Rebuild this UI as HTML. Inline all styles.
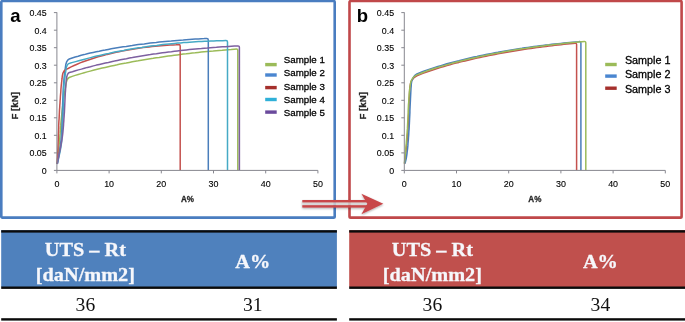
<!DOCTYPE html>
<html><head><meta charset="utf-8"><title>Tensile test comparison</title>
<style>html,body{margin:0;padding:0;background:#fff}body{width:685px;height:322px;position:relative;overflow:hidden}</style>
</head><body>
<svg width="685" height="322" viewBox="0 0 685 322" style="position:absolute;left:0;top:0">
<defs><filter id="sh" x="-10%" y="-30%" width="120%" height="170%"><feGaussianBlur in="SourceAlpha" stdDeviation="0.9"/><feOffset dx="0.4" dy="1"/><feComponentTransfer><feFuncA type="linear" slope="0.35"/></feComponentTransfer><feMerge><feMergeNode/><feMergeNode in="SourceGraphic"/></feMerge></filter></defs>
<rect width="685" height="322" fill="#fff"/>
<rect x="1.3" y="1.0" width="333.4" height="216.6" rx="1.2" fill="#fff" stroke="#4a7dc0" stroke-width="2.6"/>
<rect x="349.5" y="1.0" width="332.1" height="216.6" rx="1.2" fill="#fff" stroke="#c0484a" stroke-width="2.6"/>
<path d="M57.2,164.0 L57.4,162.0 L57.5,160.0 L57.7,158.0 L57.9,156.0 L58.1,154.0 L58.3,152.0 L58.5,150.0 L58.8,148.0 L59.0,146.0 L59.2,144.0 L59.4,142.0 L59.6,140.0 L59.8,138.0 L59.9,136.0 L60.1,133.9 L60.2,131.9 L60.4,129.9 L60.5,127.9 L60.7,125.9 L60.8,123.9 L61.0,121.9 L61.2,119.9 L61.4,117.9 L61.6,115.9 L61.8,113.9 L62.0,111.9 L62.2,109.9 L62.4,107.9 L62.7,105.9 L62.9,103.9 L63.2,101.9 L63.5,99.9 L63.8,97.9 L64.1,95.9 L64.4,93.9 L64.7,91.9 L65.1,90.0 L65.4,88.0 L65.8,86.0 Q66.4,78.7 69.2,77.5 L72.2,76.4 L75.2,75.4 L78.2,74.5 L81.2,73.6 L84.2,72.7 L87.2,71.9 L90.2,71.1 L93.2,70.3 L96.2,69.5 L99.2,68.8 L102.2,68.1 L105.2,67.4 L108.2,66.7 L111.2,66.0 L114.2,65.4 L117.2,64.8 L120.2,64.1 L123.2,63.5 L126.2,63.0 L129.2,62.4 L132.2,61.8 L135.2,61.3 L138.2,60.8 L141.2,60.2 L144.2,59.7 L147.2,59.2 L150.2,58.7 L153.2,58.3 L156.2,57.8 L159.2,57.4 L162.2,56.9 L165.2,56.5 L168.2,56.1 L171.2,55.7 L174.2,55.3 L177.2,54.9 L180.2,54.5 L183.2,54.1 L186.2,53.8 L189.2,53.4 L192.2,53.1 L195.2,52.8 L198.2,52.4 L201.2,52.1 L204.2,51.8 L207.2,51.5 L210.2,51.2 L213.2,51.0 L216.2,50.7 L219.2,50.4 L222.2,50.2 L225.2,49.9 L228.2,49.7 L231.2,49.5 L234.2,49.2 L236.3,49.1 Q237.8,49.0 237.8,50.5 L237.8,170.3" fill="none" stroke="#9bbb59" stroke-width="1.5" stroke-linejoin="round"/>
<path d="M57.2,164.0 L57.6,161.6 L58.1,159.1 L58.5,156.7 L58.9,154.3 L59.4,151.8 L59.8,149.4 L60.2,146.9 L60.6,144.5 L60.8,142.0 L61.1,139.6 L61.3,137.1 L61.5,134.6 L61.6,132.2 L61.8,129.7 L61.9,127.2 L62.0,124.8 L62.1,122.3 L62.2,119.8 L62.3,117.4 L62.4,114.9 L62.4,112.4 L62.5,109.9 L62.6,107.5 L62.6,105.0 L62.7,102.5 L62.8,100.0 L62.9,97.6 L63.0,95.1 L63.1,92.6 L63.2,90.2 L63.3,87.7 L63.5,85.2 L63.7,82.8 L63.9,80.3 L64.1,77.8 L64.4,75.4 L64.7,72.9 L65.0,70.5 L65.3,68.0 Q65.9,60.3 69.2,59.0 L72.2,58.0 L75.2,57.0 L78.2,56.2 L81.2,55.3 L84.2,54.6 L87.2,53.8 L90.2,53.1 L93.2,52.4 L96.2,51.8 L99.2,51.2 L102.2,50.5 L105.2,50.0 L108.2,49.4 L111.2,48.8 L114.2,48.3 L117.2,47.8 L120.2,47.3 L123.2,46.8 L126.2,46.4 L129.2,45.9 L132.2,45.5 L135.2,45.0 L138.2,44.6 L141.2,44.2 L144.2,43.9 L147.2,43.5 L150.2,43.1 L153.2,42.8 L156.2,42.5 L159.2,42.1 L162.2,41.8 L165.2,41.5 L168.2,41.2 L171.2,41.0 L174.2,40.7 L177.2,40.4 L180.2,40.2 L183.2,40.0 L186.2,39.7 L189.2,39.5 L192.2,39.3 L195.2,39.1 L198.2,38.9 L201.2,38.7 L204.2,38.6 L206.8,38.4 Q208.3,38.4 208.3,39.9 L208.3,170.3" fill="none" stroke="#4a7ebb" stroke-width="1.5" stroke-linejoin="round"/>
<path d="M57.0,164.0 L57.2,161.7 L57.3,159.5 L57.5,157.2 L57.6,155.0 L57.7,152.7 L57.8,150.5 L57.9,148.2 L58.0,145.9 L58.1,143.7 L58.2,141.4 L58.3,139.2 L58.3,136.9 L58.4,134.6 L58.5,132.4 L58.6,130.1 L58.7,127.9 L58.7,125.6 L58.8,123.3 L58.9,121.1 L59.1,118.8 L59.2,116.6 L59.3,114.3 L59.4,112.1 L59.5,109.8 L59.7,107.5 L59.8,105.3 L60.0,103.0 L60.1,100.8 L60.3,98.5 L60.4,96.3 L60.6,94.0 L60.8,91.8 L60.9,89.5 L61.1,87.2 L61.3,85.0 L61.6,82.7 L61.8,80.5 L62.1,78.2 L62.3,76.0 Q62.9,70.0 68.1,68.5 L71.1,66.9 L74.1,65.5 L77.1,64.2 L80.1,62.9 L83.1,61.8 L86.1,60.7 L89.1,59.7 L92.1,58.7 L95.1,57.7 L98.1,56.8 L101.1,56.0 L104.1,55.2 L107.1,54.4 L110.1,53.7 L113.1,53.0 L116.1,52.3 L119.1,51.7 L122.1,51.1 L125.1,50.5 L128.1,49.9 L131.1,49.4 L134.1,48.9 L137.1,48.5 L140.1,48.0 L143.1,47.6 L146.1,47.3 L149.1,46.9 L152.1,46.6 L155.1,46.3 L158.1,46.0 L161.1,45.7 L164.1,45.5 L167.1,45.3 L170.1,45.1 L173.1,44.9 L176.1,44.8 L178.7,44.6 Q180.2,44.6 180.2,46.1 L180.2,170.3" fill="none" stroke="#c4514e" stroke-width="1.5" stroke-linejoin="round"/>
<path d="M57.3,164.0 L57.8,161.7 L58.4,159.3 L58.9,157.0 L59.4,154.6 L59.9,152.3 L60.4,149.9 L60.8,147.6 L61.2,145.2 L61.5,142.8 L61.7,140.4 L61.9,138.0 L62.1,135.6 L62.3,133.3 L62.4,130.9 L62.6,128.5 L62.7,126.1 L62.8,123.7 L62.9,121.3 L62.9,118.9 L63.0,116.5 L63.1,114.1 L63.1,111.7 L63.2,109.3 L63.2,106.9 L63.3,104.5 L63.3,102.1 L63.4,99.7 L63.5,97.3 L63.5,94.9 L63.6,92.5 L63.7,90.1 L63.8,87.7 L64.0,85.3 L64.2,82.9 L64.5,80.5 L64.8,78.1 L65.1,75.8 L65.4,73.4 L65.8,71.0 Q66.4,63.5 69.7,63.2 L72.7,62.4 L75.7,61.6 L78.7,60.8 L81.7,60.0 L84.7,59.2 L87.7,58.4 L90.7,57.6 L93.7,56.8 L96.7,56.1 L99.7,55.4 L102.7,54.7 L105.7,54.0 L108.7,53.4 L111.7,52.7 L114.7,52.1 L117.7,51.5 L120.7,50.9 L123.7,50.4 L126.7,49.8 L129.7,49.3 L132.7,48.8 L135.7,48.3 L138.7,47.8 L141.7,47.4 L144.7,46.9 L147.7,46.5 L150.7,46.1 L153.7,45.7 L156.7,45.4 L159.7,45.0 L162.7,44.6 L165.7,44.3 L168.7,44.0 L171.7,43.7 L174.7,43.4 L177.7,43.1 L180.7,42.9 L183.7,42.6 L186.7,42.4 L189.7,42.2 L192.7,42.0 L195.7,41.8 L198.7,41.6 L201.7,41.5 L204.7,41.3 L207.7,41.2 L210.7,41.0 L213.7,40.9 L216.7,40.8 L219.7,40.7 L222.7,40.7 L225.7,40.6 L226.0,40.6 Q227.5,40.6 227.5,42.1 L227.5,170.3" fill="none" stroke="#46aac5" stroke-width="1.5" stroke-linejoin="round"/>
<path d="M57.3,164.0 L57.7,161.9 L58.1,159.7 L58.5,157.6 L58.9,155.5 L59.3,153.3 L59.8,151.2 L60.2,149.1 L60.6,147.0 L61.0,144.8 L61.4,142.7 L61.8,140.6 L62.1,138.4 L62.4,136.3 L62.7,134.1 L62.9,132.0 L63.1,129.8 L63.3,127.6 L63.5,125.5 L63.6,123.3 L63.8,121.1 L63.9,119.0 L64.1,116.8 L64.2,114.6 L64.4,112.5 L64.5,110.3 L64.6,108.1 L64.7,106.0 L64.8,103.8 L64.9,101.6 L65.0,99.5 L65.1,97.3 L65.2,95.1 L65.3,93.0 L65.5,90.8 L65.6,88.6 L65.7,86.5 L65.9,84.3 L66.1,82.2 L66.3,80.0 Q66.9,73.2 69.4,72.5 L72.4,71.7 L75.4,70.8 L78.4,69.9 L81.4,69.1 L84.4,68.2 L87.4,67.4 L90.4,66.7 L93.4,65.9 L96.4,65.1 L99.4,64.4 L102.4,63.7 L105.4,63.0 L108.4,62.4 L111.4,61.7 L114.4,61.1 L117.4,60.4 L120.4,59.8 L123.4,59.2 L126.4,58.7 L129.4,58.1 L132.4,57.6 L135.4,57.0 L138.4,56.5 L141.4,56.0 L144.4,55.5 L147.4,55.0 L150.4,54.6 L153.4,54.1 L156.4,53.7 L159.4,53.2 L162.4,52.8 L165.4,52.4 L168.4,52.0 L171.4,51.7 L174.4,51.3 L177.4,50.9 L180.4,50.6 L183.4,50.2 L186.4,49.9 L189.4,49.6 L192.4,49.3 L195.4,49.0 L198.4,48.7 L201.4,48.5 L204.4,48.2 L207.4,48.0 L210.4,47.7 L213.4,47.5 L216.4,47.3 L219.4,47.0 L222.4,46.8 L225.4,46.7 L228.4,46.5 L231.4,46.3 L234.4,46.1 L237.4,46.0 L237.9,46.0 Q239.4,45.9 239.4,47.4 L239.4,170.3" fill="none" stroke="#7d60a0" stroke-width="1.5" stroke-linejoin="round"/>
<path d="M56.9,12.3 V170.4 H317.9" fill="none" stroke="#87878f" stroke-width="1"/>
<path d="M56.9,170.4 h-3 M56.9,152.9 h-3 M56.9,135.3 h-3 M56.9,117.8 h-3 M56.9,100.3 h-3 M56.9,82.8 h-3 M56.9,65.2 h-3 M56.9,47.7 h-3 M56.9,30.2 h-3 M56.9,12.6 h-3 M56.9,170.4 v3 M109.1,170.4 v3 M161.3,170.4 v3 M213.5,170.4 v3 M265.7,170.4 v3 M317.9,170.4 v3" stroke="#87878f" stroke-width="1" fill="none"/>
<g font-family="'Liberation Sans', Arial, sans-serif" font-size="9.8" fill="#000" stroke="#000" stroke-width="0.12">
<text transform="translate(46.7,173.9) scale(0.905,1)" text-anchor="end">0</text>
<text transform="translate(46.7,156.4) scale(0.905,1)" text-anchor="end">0.05</text>
<text transform="translate(46.7,138.8) scale(0.905,1)" text-anchor="end">0.1</text>
<text transform="translate(46.7,121.3) scale(0.905,1)" text-anchor="end">0.15</text>
<text transform="translate(46.7,103.8) scale(0.905,1)" text-anchor="end">0.2</text>
<text transform="translate(46.7,86.2) scale(0.905,1)" text-anchor="end">0.25</text>
<text transform="translate(46.7,68.7) scale(0.905,1)" text-anchor="end">0.3</text>
<text transform="translate(46.7,51.2) scale(0.905,1)" text-anchor="end">0.35</text>
<text transform="translate(46.7,33.7) scale(0.905,1)" text-anchor="end">0.4</text>
<text transform="translate(46.7,16.1) scale(0.905,1)" text-anchor="end">0.45</text>
<text transform="translate(56.9,187) scale(0.91,1)" text-anchor="middle">0</text>
<text transform="translate(109.1,187) scale(0.91,1)" text-anchor="middle">10</text>
<text transform="translate(161.3,187) scale(0.91,1)" text-anchor="middle">20</text>
<text transform="translate(213.5,187) scale(0.91,1)" text-anchor="middle">30</text>
<text transform="translate(265.7,187) scale(0.91,1)" text-anchor="middle">40</text>
<text transform="translate(317.9,187) scale(0.91,1)" text-anchor="middle">50</text>
</g>
<g font-family="'Liberation Sans', Arial, sans-serif" font-weight="bold" font-size="9.2" fill="#262626" stroke="#262626" stroke-width="0.3">
<text transform="translate(187.4,202.4) scale(0.88,1)" text-anchor="middle">A%</text>
<text transform="translate(18.4,105.8) rotate(-90) scale(1.05,0.92)" text-anchor="middle">F [kN]</text>
</g>
<text x="10.2" y="22.1" font-family="'Liberation Sans', Arial, sans-serif" font-weight="bold" font-size="18.5" fill="#000">a</text>
<rect x="265.2" y="62.9" width="11.5" height="3.4" fill="#9bbb59"/>
<text x="283.8" y="63.0" font-family="'Liberation Sans', Arial, sans-serif" font-size="9.5" fill="#000" stroke="#000" stroke-width="0.28" textLength="41.0" lengthAdjust="spacingAndGlyphs">Sample 1</text>
<rect x="265.2" y="73.3" width="11.5" height="3.4" fill="#4a86d0"/>
<text x="283.8" y="76.0" font-family="'Liberation Sans', Arial, sans-serif" font-size="9.5" fill="#000" stroke="#000" stroke-width="0.28" textLength="41.0" lengthAdjust="spacingAndGlyphs">Sample 2</text>
<rect x="265.2" y="85.9" width="11.5" height="3.4" fill="#a5302c"/>
<text x="283.8" y="89.6" font-family="'Liberation Sans', Arial, sans-serif" font-size="9.5" fill="#000" stroke="#000" stroke-width="0.28" textLength="41.0" lengthAdjust="spacingAndGlyphs">Sample 3</text>
<rect x="265.2" y="97.8" width="11.5" height="3.4" fill="#2fb0d8"/>
<text x="283.8" y="102.8" font-family="'Liberation Sans', Arial, sans-serif" font-size="9.5" fill="#000" stroke="#000" stroke-width="0.28" textLength="41.0" lengthAdjust="spacingAndGlyphs">Sample 4</text>
<rect x="265.2" y="110.4" width="11.5" height="3.4" fill="#6a4a9c"/>
<text x="283.8" y="116.2" font-family="'Liberation Sans', Arial, sans-serif" font-size="9.5" fill="#000" stroke="#000" stroke-width="0.28" textLength="41.0" lengthAdjust="spacingAndGlyphs">Sample 5</text>
<path d="M404.6,163.6 L404.8,161.7 L405.1,159.7 L405.3,157.8 L405.5,155.9 L405.7,153.9 L405.9,152.0 L406.1,150.1 L406.3,148.1 L406.5,146.2 L406.7,144.3 L406.9,142.3 L407.1,140.4 L407.3,138.5 L407.4,136.5 L407.6,134.6 L407.7,132.7 L407.9,130.7 L408.0,128.8 L408.1,126.8 L408.2,124.9 L408.3,123.0 L408.4,121.0 L408.4,119.1 L408.5,117.1 L408.6,115.2 L408.7,113.2 L408.7,111.3 L408.8,109.4 L408.9,107.4 L409.0,105.5 L409.0,103.5 L409.1,101.6 L409.2,99.6 L409.3,97.7 L409.4,95.8 L409.5,93.8 L409.6,91.9 L409.7,89.9 L409.8,88.0 Q410.4,78.7 416.9,75.8 L419.9,74.6 L422.9,73.4 L425.9,72.3 L428.9,71.2 L431.9,70.2 L434.9,69.2 L437.9,68.3 L440.9,67.4 L443.9,66.5 L446.9,65.6 L449.9,64.8 L452.9,63.9 L455.9,63.1 L458.9,62.4 L461.9,61.6 L464.9,60.9 L467.9,60.2 L470.9,59.5 L473.9,58.8 L476.9,58.1 L479.9,57.4 L482.9,56.8 L485.9,56.2 L488.9,55.6 L491.9,55.0 L494.9,54.4 L497.9,53.8 L500.9,53.3 L503.9,52.7 L506.9,52.2 L509.9,51.7 L512.9,51.2 L515.9,50.7 L518.9,50.2 L521.9,49.7 L524.9,49.3 L527.9,48.8 L530.9,48.4 L533.9,48.0 L536.9,47.6 L539.9,47.2 L542.9,46.8 L545.9,46.4 L548.9,46.0 L551.9,45.7 L554.9,45.3 L557.9,45.0 L560.9,44.7 L563.9,44.3 L566.9,44.0 L569.9,43.7 L572.9,43.4 L575.1,43.2 Q576.6,43.1 576.6,44.6 L576.6,170.3" fill="none" stroke="#c4514e" stroke-width="1.5" stroke-linejoin="round"/>
<path d="M405.0,163.6 L405.5,161.6 L406.0,159.6 L406.4,157.6 L406.7,155.6 L407.0,153.6 L407.2,151.5 L407.5,149.5 L407.7,147.5 L407.9,145.4 L408.0,143.4 L408.2,141.3 L408.4,139.3 L408.5,137.2 L408.7,135.2 L408.8,133.1 L408.9,131.1 L409.1,129.0 L409.2,127.0 L409.3,124.9 L409.4,122.9 L409.5,120.9 L409.6,118.8 L409.7,116.8 L409.8,114.7 L409.9,112.7 L409.9,110.6 L410.0,108.6 L410.1,106.5 L410.2,104.5 L410.3,102.4 L410.4,100.4 L410.5,98.3 L410.6,96.3 L410.7,94.2 L410.8,92.2 L410.9,90.1 L411.0,88.1 L411.2,86.0 L411.3,84.0 Q411.9,76.8 416.9,73.9 L419.9,72.7 L422.9,71.5 L425.9,70.4 L428.9,69.4 L431.9,68.4 L434.9,67.4 L437.9,66.5 L440.9,65.6 L443.9,64.7 L446.9,63.8 L449.9,63.0 L452.9,62.2 L455.9,61.4 L458.9,60.7 L461.9,59.9 L464.9,59.2 L467.9,58.5 L470.9,57.8 L473.9,57.1 L476.9,56.5 L479.9,55.8 L482.9,55.2 L485.9,54.6 L488.9,54.0 L491.9,53.4 L494.9,52.8 L497.9,52.3 L500.9,51.7 L503.9,51.2 L506.9,50.7 L509.9,50.2 L512.9,49.7 L515.9,49.2 L518.9,48.7 L521.9,48.3 L524.9,47.8 L527.9,47.4 L530.9,47.0 L533.9,46.6 L536.9,46.2 L539.9,45.8 L542.9,45.4 L545.9,45.0 L548.9,44.7 L551.9,44.3 L554.9,44.0 L557.9,43.7 L560.9,43.4 L563.9,43.1 L566.9,42.8 L569.9,42.5 L572.9,42.2 L575.9,41.9 L578.9,41.7 L579.4,41.6 Q580.9,41.5 580.9,43.0 L580.9,170.3" fill="none" stroke="#4a7ebb" stroke-width="1.5" stroke-linejoin="round"/>
<path d="M404.4,163.6 L404.6,161.6 L404.8,159.5 L405.0,157.5 L405.2,155.4 L405.3,153.4 L405.5,151.4 L405.7,149.3 L405.9,147.3 L406.1,145.2 L406.3,143.2 L406.4,141.2 L406.6,139.1 L406.8,137.1 L406.9,135.0 L407.1,133.0 L407.2,131.0 L407.4,128.9 L407.5,126.9 L407.6,124.8 L407.7,122.8 L407.8,120.7 L407.9,118.7 L408.0,116.7 L408.1,114.6 L408.2,112.6 L408.2,110.5 L408.3,108.5 L408.4,106.4 L408.5,104.4 L408.7,102.3 L408.8,100.3 L408.9,98.3 L409.1,96.2 L409.2,94.2 L409.4,92.1 L409.6,90.1 L409.8,88.1 L410.1,86.0 L410.4,84.0 Q411.0,77.8 416.9,74.9 L419.9,73.7 L422.9,72.5 L425.9,71.4 L428.9,70.3 L431.9,69.3 L434.9,68.3 L437.9,67.4 L440.9,66.5 L443.9,65.6 L446.9,64.7 L449.9,63.9 L452.9,63.0 L455.9,62.2 L458.9,61.5 L461.9,60.7 L464.9,60.0 L467.9,59.3 L470.9,58.6 L473.9,57.9 L476.9,57.2 L479.9,56.5 L482.9,55.9 L485.9,55.3 L488.9,54.7 L491.9,54.1 L494.9,53.5 L497.9,52.9 L500.9,52.4 L503.9,51.8 L506.9,51.3 L509.9,50.8 L512.9,50.3 L515.9,49.8 L518.9,49.3 L521.9,48.8 L524.9,48.4 L527.9,47.9 L530.9,47.5 L533.9,47.1 L536.9,46.7 L539.9,46.3 L542.9,45.9 L545.9,45.5 L548.9,45.1 L551.9,44.8 L554.9,44.4 L557.9,44.1 L560.9,43.8 L563.9,43.4 L566.9,43.1 L569.9,42.8 L572.9,42.5 L575.9,42.3 L578.9,42.0 L581.9,41.7 L584.3,41.5 Q585.8,41.4 585.8,42.9 L585.8,170.3" fill="none" stroke="#9bbb59" stroke-width="1.5" stroke-linejoin="round"/>
<path d="M404.3,12.3 V170.4 H665.3" fill="none" stroke="#87878f" stroke-width="1"/>
<path d="M404.3,170.4 h-3 M404.3,152.9 h-3 M404.3,135.3 h-3 M404.3,117.8 h-3 M404.3,100.3 h-3 M404.3,82.8 h-3 M404.3,65.2 h-3 M404.3,47.7 h-3 M404.3,30.2 h-3 M404.3,12.6 h-3 M404.3,170.4 v3 M456.5,170.4 v3 M508.7,170.4 v3 M560.9,170.4 v3 M613.1,170.4 v3 M665.3,170.4 v3" stroke="#87878f" stroke-width="1" fill="none"/>
<g font-family="'Liberation Sans', Arial, sans-serif" font-size="9.8" fill="#000" stroke="#000" stroke-width="0.12">
<text transform="translate(394.1,173.9) scale(0.905,1)" text-anchor="end">0</text>
<text transform="translate(394.1,156.4) scale(0.905,1)" text-anchor="end">0.05</text>
<text transform="translate(394.1,138.8) scale(0.905,1)" text-anchor="end">0.1</text>
<text transform="translate(394.1,121.3) scale(0.905,1)" text-anchor="end">0.15</text>
<text transform="translate(394.1,103.8) scale(0.905,1)" text-anchor="end">0.2</text>
<text transform="translate(394.1,86.2) scale(0.905,1)" text-anchor="end">0.25</text>
<text transform="translate(394.1,68.7) scale(0.905,1)" text-anchor="end">0.3</text>
<text transform="translate(394.1,51.2) scale(0.905,1)" text-anchor="end">0.35</text>
<text transform="translate(394.1,33.7) scale(0.905,1)" text-anchor="end">0.4</text>
<text transform="translate(394.1,16.1) scale(0.905,1)" text-anchor="end">0.45</text>
<text transform="translate(404.3,187) scale(0.91,1)" text-anchor="middle">0</text>
<text transform="translate(456.5,187) scale(0.91,1)" text-anchor="middle">10</text>
<text transform="translate(508.7,187) scale(0.91,1)" text-anchor="middle">20</text>
<text transform="translate(560.9,187) scale(0.91,1)" text-anchor="middle">30</text>
<text transform="translate(613.1,187) scale(0.91,1)" text-anchor="middle">40</text>
<text transform="translate(665.3,187) scale(0.91,1)" text-anchor="middle">50</text>
</g>
<g font-family="'Liberation Sans', Arial, sans-serif" font-weight="bold" font-size="9.2" fill="#262626" stroke="#262626" stroke-width="0.3">
<text transform="translate(534.8,202.4) scale(0.88,1)" text-anchor="middle">A%</text>
<text transform="translate(365.8,105.8) rotate(-90) scale(1.05,0.92)" text-anchor="middle">F [kN]</text>
</g>
<text x="356.7" y="22.1" font-family="'Liberation Sans', Arial, sans-serif" font-weight="bold" font-size="18.5" fill="#000">b</text>
<rect x="605.2" y="62.8" width="11.5" height="3.4" fill="#9bbb59"/>
<text x="624.9" y="64.1" font-family="'Liberation Sans', Arial, sans-serif" font-size="10.2" fill="#000" stroke="#000" stroke-width="0.28" textLength="45.5" lengthAdjust="spacingAndGlyphs">Sample 1</text>
<rect x="605.2" y="74.4" width="11.5" height="3.4" fill="#4a86d0"/>
<text x="624.9" y="78.0" font-family="'Liberation Sans', Arial, sans-serif" font-size="10.2" fill="#000" stroke="#000" stroke-width="0.28" textLength="45.5" lengthAdjust="spacingAndGlyphs">Sample 2</text>
<rect x="605.2" y="86.5" width="11.5" height="3.4" fill="#a5302c"/>
<text x="624.9" y="92.9" font-family="'Liberation Sans', Arial, sans-serif" font-size="10.2" fill="#000" stroke="#000" stroke-width="0.28" textLength="45.5" lengthAdjust="spacingAndGlyphs">Sample 3</text>
<g filter="url(#sh)">
<rect x="302.3" y="202" width="66" height="3.6" fill="#d9d6d6" fill-opacity="0.8"/>
<rect x="302.3" y="200" width="66" height="2.4" fill="#c8474a"/>
<rect x="302.3" y="205.2" width="66" height="2.4" fill="#c8474a"/>
<path d="M361.4,193.8 L383.3,203.8 L361.4,214.2 L367.3,203.8 Z" fill="#c8474a"/>
</g>
<rect x="1.2" y="230.2" width="335.7" height="57" fill="#4f81bd"/>
<rect x="1.2" y="230.2" width="335.7" height="2.4" fill="#0a0a0a"/>
<rect x="1.2" y="286.5" width="335.7" height="2.4" fill="#0a0a0a"/>
<rect x="1.2" y="318.2" width="335.7" height="2.4" fill="#0a0a0a"/>
<g font-family="'Liberation Serif', 'Times New Roman', serif" font-size="20.3" text-anchor="middle">
<g font-weight="bold" fill="#f6f7fb" stroke="#f6f7fb" stroke-width="0.3">
<text transform="translate(85.4,256.3) scale(1,0.955)">UTS – Rt</text>
<text transform="translate(85.4,280.6) scale(1,0.955)">[daN/mm2]</text>
<text transform="translate(252.8,268) scale(1,0.955)">A%</text>
</g><g fill="#111" font-size="19.6">
<text x="85.4" y="311">36</text>
<text x="252.8" y="311">31</text>
</g></g>
<rect x="349.2" y="230.2" width="335.8" height="57" fill="#c0504d"/>
<rect x="349.2" y="230.2" width="335.8" height="2.4" fill="#0a0a0a"/>
<rect x="349.2" y="286.5" width="335.8" height="2.4" fill="#0a0a0a"/>
<rect x="349.2" y="318.2" width="335.8" height="2.4" fill="#0a0a0a"/>
<g font-family="'Liberation Serif', 'Times New Roman', serif" font-size="20.3" text-anchor="middle">
<g font-weight="bold" fill="#f6f7fb" stroke="#f6f7fb" stroke-width="0.3">
<text transform="translate(432.4,256.3) scale(1,0.955)">UTS – Rt</text>
<text transform="translate(432.4,280.6) scale(1,0.955)">[daN/mm2]</text>
<text transform="translate(600.4,268) scale(1,0.955)">A%</text>
</g><g fill="#111" font-size="19.6">
<text x="432.4" y="311">36</text>
<text x="600.4" y="311">34</text>
</g></g>
</svg>
</body></html>
